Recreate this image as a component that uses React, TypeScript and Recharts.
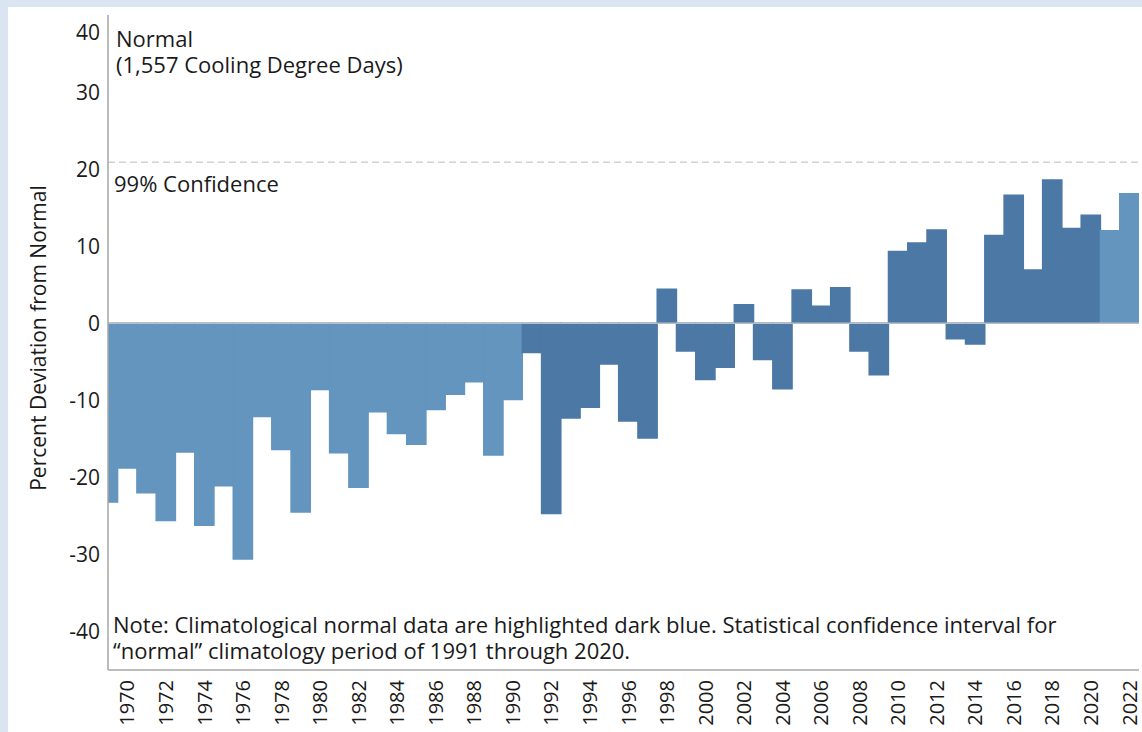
import { BarChart, Bar, Cell, XAxis, YAxis, ReferenceLine } from 'recharts';

// years shown (1969 is only half visible at the left edge)
const years = [
  1969, 1970, 1971, 1972, 1973, 1974, 1975, 1976, 1977, 1978, 1979,
  1980, 1981, 1982, 1983, 1984, 1985, 1986, 1987, 1988, 1989,
  1990, 1991, 1992, 1993, 1994, 1995, 1996, 1997, 1998, 1999,
  2000, 2001, 2002, 2003, 2004, 2005, 2006, 2007, 2008, 2009,
  2010, 2011, 2012, 2013, 2014, 2015, 2016, 2017, 2018, 2019,
  2020, 2021, 2022,
];

// percent deviation from normal cooling degree days
const deviation = [
  -23.2, -18.8, -22.0, -25.6, -16.7, -26.2, -21.1, -30.6, -12.1, -16.4, -24.5,
  -8.6, -16.8, -21.3, -11.5, -14.3, -15.7, -11.2, -9.2, -7.6, -17.1,
  -9.9, -3.8, -24.7, -12.3, -10.9, -5.3, -12.7, -14.9, 4.4, -3.6,
  -7.3, -5.7, 2.4, -4.7, -8.5, 4.3, 2.2, 4.6, -3.6, -6.7,
  9.3, 10.4, 12.1, -2.0, -2.7, 11.4, 16.6, 6.9, 18.6, 12.3,
  14.0, 12.0, 16.8,
];

const yearTicks = [
  1970, 1972, 1974, 1976, 1978, 1980, 1982, 1984, 1986, 1988, 1990, 1992, 1994,
  1996, 1998, 2000, 2002, 2004, 2006, 2008, 2010, 2012, 2014, 2016, 2018, 2020, 2022,
];
const yTicks = [-40, -30, -20, -10, 0, 10, 20, 30, 40];

const NORMAL_START = 1991;
const NORMAL_END = 2020;
const CONFIDENCE = 20.9;

const COLORS = {
  light: '#6395bf',
  dark: '#4c78a5',
  axis: '#a6a6a6',
  zero: '#b9bec4',
  dash: '#d2d2d2',
  text: '#1a1a1a',
  frame: '#dbe5f1',
};

const FONT = '"Open Sans", "Noto Sans", sans-serif';

const data = years.map((year, i) => ({ year, value: deviation[i] }));

const YTick = ({ x, y, payload }: any) => (
  <text
    x={x}
    y={payload.value === 40 ? y + 17 : y}
    textAnchor="end"
    dominantBaseline="central"
    fontSize={21}
    fontFamily={FONT}
    fill={COLORS.text}
  >
    {payload.value}
  </text>
);

const XTick = ({ x, y, payload }: any) => (
  <text
    x={x}
    y={y + 8}
    transform={`rotate(-90 ${x} ${y + 8})`}
    textAnchor="end"
    dy="0.36em"
    fontSize={20}
    fontFamily={FONT}
    fill={COLORS.text}
  >
    {payload.value}
  </text>
);

const textStyle = {
  position: 'absolute' as const,
  fontFamily: FONT,
  fontSize: 22,
  lineHeight: '26px',
  height: 26,
  color: COLORS.text,
  whiteSpace: 'nowrap' as const,
};

export default function App() {
  return (
    <div
      style={{
        position: 'absolute',
        left: 0,
        top: 0,
        width: 1142,
        height: 732,
        background: COLORS.frame,
        overflow: 'hidden',
      }}
    >
      <div style={{ position: 'absolute', left: 8, top: 7, right: 0, bottom: 0, background: '#fff' }} />
      <div style={{ position: 'absolute', left: 0, top: 0 }}>
        <BarChart
          width={1142}
          height={732}
          data={data}
          margin={{ top: 15, right: 3, bottom: 0, left: 0 }}
          barCategoryGap={0}
        >
          <XAxis
            dataKey="year"
            type="number"
            domain={[1969, 2022.5]}
            allowDataOverflow
            ticks={yearTicks}
            interval={0}
            height={62}
            tickLine={false}
            tickSize={0}
            tick={<XTick />}
            axisLine={{ stroke: COLORS.axis, strokeWidth: 1.5 }}
          />
          <YAxis
            type="number"
            domain={[-45, 40]}
            ticks={yTicks}
            interval={0}
            width={108}
            tickLine={false}
            tickSize={0}
            tickMargin={8}
            tick={<YTick />}
            axisLine={{ stroke: COLORS.axis, strokeWidth: 1.5 }}
          />
          <ReferenceLine y={CONFIDENCE} stroke={COLORS.dash} strokeWidth={1.5} strokeDasharray="7 4" />
          <Bar dataKey="value" barSize={19.2} isAnimationActive={false}>
            {data.map((d) => {
              const c = d.year >= NORMAL_START && d.year <= NORMAL_END ? COLORS.dark : COLORS.light;
              return <Cell key={d.year} fill={c} stroke={c} strokeWidth={1.5} />;
            })}
          </Bar>
          <ReferenceLine y={0} stroke={COLORS.zero} strokeWidth={1.5} />
        </BarChart>
      </div>

      <div
        style={{
          ...textStyle,
          fontSize: 21,
          left: 38,
          top: 338,
          transform: 'translate(-50%, -50%) rotate(-90deg)',
        }}
      >
        Percent Deviation from Normal
      </div>
      <div style={{ ...textStyle, left: 116, top: 25 }}>Normal</div>
      <div style={{ ...textStyle, left: 116, top: 51 }}>(1,557 Cooling Degree Days)</div>
      <div style={{ ...textStyle, left: 114, top: 170 }}>99% Confidence</div>
      <div style={{ ...textStyle, left: 113, top: 611 }}>
        Note: Climatological normal data are highlighted dark blue. Statistical confidence interval for
      </div>
      <div style={{ ...textStyle, left: 113, top: 637 }}>
        “normal” climatology period of 1991 through 2020.
      </div>
    </div>
  );
}
